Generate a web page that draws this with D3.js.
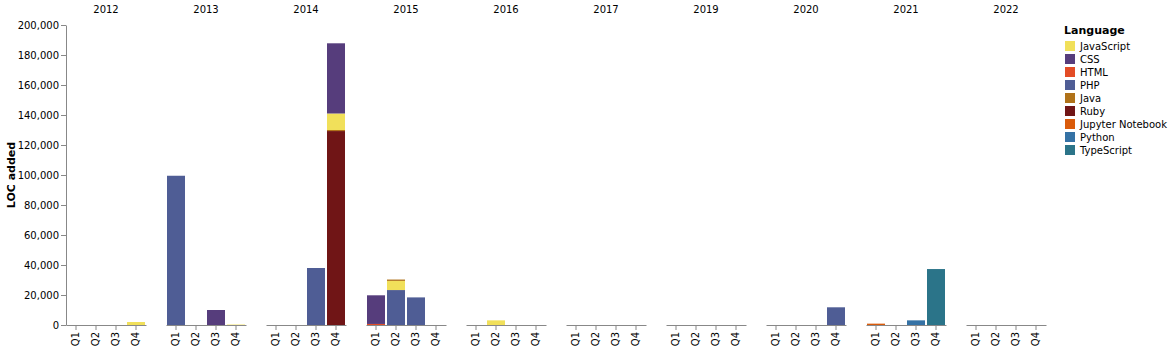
<!DOCTYPE html>
<html>
<head>
<meta charset="utf-8">
<script src="https://cdn.jsdelivr.net/npm/d3@7"></script>
<style>
  body { margin: 0; background: #fff; }
  svg text { font-family: "DejaVu Sans", sans-serif; fill: #000; }
  .domain, .tick line { stroke: #888; }
</style>
</head>
<body>
<div id="chart"></div>
<script>
var years = ['2012', '2013', '2014', '2015', '2016', '2017', '2019', '2020', '2021', '2022'];
var quarters = ['Q1', 'Q2', 'Q3', 'Q4'];
var languages = ['JavaScript', 'CSS', 'HTML', 'PHP', 'Java', 'Ruby', 'Jupyter Notebook', 'Python', 'TypeScript'];
var langColors = ['#f1e05a', '#563d7c', '#e34c26', '#4f5d95', '#b07219', '#701516', '#da5b0b', '#3572a5', '#2b7489'];
var yTicks = [0, 20000, 40000, 60000, 80000, 100000, 120000, 140000, 160000, 180000, 200000];

// [year, quarter, language, LOC added], listed bottom to top of each stack
var locAdded = [
  ['2012', 'Q4', 'JavaScript', 2000],
  ['2013', 'Q1', 'PHP', 99500],
  ['2013', 'Q3', 'CSS', 10000],
  ['2013', 'Q4', 'JavaScript', 300],
  ['2014', 'Q3', 'PHP', 38000],
  ['2014', 'Q4', 'Ruby', 129300],
  ['2014', 'Q4', 'Java', 700],
  ['2014', 'Q4', 'JavaScript', 11000],
  ['2014', 'Q4', 'CSS', 46800],
  ['2015', 'Q1', 'HTML', 700],
  ['2015', 'Q1', 'CSS', 19100],
  ['2015', 'Q2', 'PHP', 23300],
  ['2015', 'Q2', 'JavaScript', 6100],
  ['2015', 'Q2', 'Java', 900],
  ['2015', 'Q3', 'PHP', 18400],
  ['2016', 'Q2', 'JavaScript', 3100],
  ['2020', 'Q4', 'PHP', 11800],
  ['2021', 'Q1', 'Jupyter Notebook', 900],
  ['2021', 'Q3', 'Python', 3100],
  ['2021', 'Q4', 'TypeScript', 37300]
];

var width = 1170, height = 351;
var plotTop = 25, plotH = 300, left = 66;

var svg = d3.select('#chart').append('svg')
  .attr('width', width)
  .attr('height', height);

var color = d3.scaleOrdinal().domain(languages).range(langColors);

var facetX = d3.scaleBand()
  .domain(years)
  .range([left, left + 980])
  .paddingInner(0.2);

var x = d3.scaleBand()
  .domain(quarters)
  .range([0, facetX.bandwidth()])
  .paddingInner(0.1)
  .paddingOuter(0.05);

var y = d3.scaleLinear()
  .domain([0, 200000])
  .range([plotTop + plotH, plotTop]);

// stack positions from data order
var running = {};
var bars = locAdded.map(function(d){
  var key = d[0] + '|' + d[1];
  var y0 = running[key] || 0;
  running[key] = y0 + d[3];
  return {year: d[0], quarter: d[1], lang: d[2], y0: y0, y1: y0 + d[3]};
});

// y axis
var yAxis = svg.append('g')
  .attr('transform', 'translate(' + left + ',0)')
  .call(d3.axisLeft(y).tickValues(yTicks).tickFormat(d3.format(',')).tickSize(5).tickPadding(2).tickSizeOuter(0));
yAxis.selectAll('text').style('font-size', '10px');

svg.append('text')
  .attr('transform', 'translate(15,' + (plotTop + plotH / 2) + ') rotate(-90)')
  .attr('text-anchor', 'middle')
  .style('font-size', '11px')
  .style('font-weight', 'bold')
  .text('LOC added');

// facets
var facets = svg.selectAll('.facet')
  .data(years)
  .enter()
  .append('g')
  .attr('class', 'facet')
  .attr('transform', function(d){ return 'translate(' + facetX(d) + ',0)'; });

facets.append('text')
  .attr('x', facetX.bandwidth() / 2)
  .attr('y', 13)
  .attr('text-anchor', 'middle')
  .style('font-size', '10px')
  .text(function(d){ return d; });

facets.each(function(yr){
  var g = d3.select(this);

  g.selectAll('rect')
    .data(bars.filter(function(b){ return b.year === yr; }))
    .enter()
    .append('rect')
    .attr('x', function(b){ return x(b.quarter); })
    .attr('width', x.bandwidth())
    .attr('y', function(b){ return y(b.y1); })
    .attr('height', function(b){ return y(b.y0) - y(b.y1); })
    .attr('fill', function(b){ return color(b.lang); });

  var ax = g.append('g')
    .attr('transform', 'translate(0,' + (plotTop + plotH) + ')')
    .call(d3.axisBottom(x).tickSize(5).tickSizeOuter(0).tickPadding(2));
  ax.selectAll('text')
    .style('font-size', '10px')
    .attr('transform', 'rotate(-90)')
    .attr('text-anchor', 'end')
    .attr('dy', '0.32em')
    .attr('x', -7)
    .attr('y', 0);
});

// legend
var legend = svg.append('g').attr('transform', 'translate(1064,0)');
legend.append('text')
  .attr('x', 0)
  .attr('y', 34)
  .style('font-size', '11px')
  .style('font-weight', 'bold')
  .text('Language');

var items = legend.selectAll('.item')
  .data(languages)
  .enter()
  .append('g')
  .attr('transform', function(d, i){ return 'translate(0,' + (46 + i * 13) + ')'; });
items.append('rect')
  .attr('x', 1)
  .attr('y', -5)
  .attr('width', 10)
  .attr('height', 10)
  .attr('fill', function(d){ return color(d); });
items.append('text')
  .attr('x', 16)
  .attr('y', 0)
  .attr('dy', '0.35em')
  .style('font-size', '10px')
  .text(function(d){ return d; });
</script>
</body>
</html>
